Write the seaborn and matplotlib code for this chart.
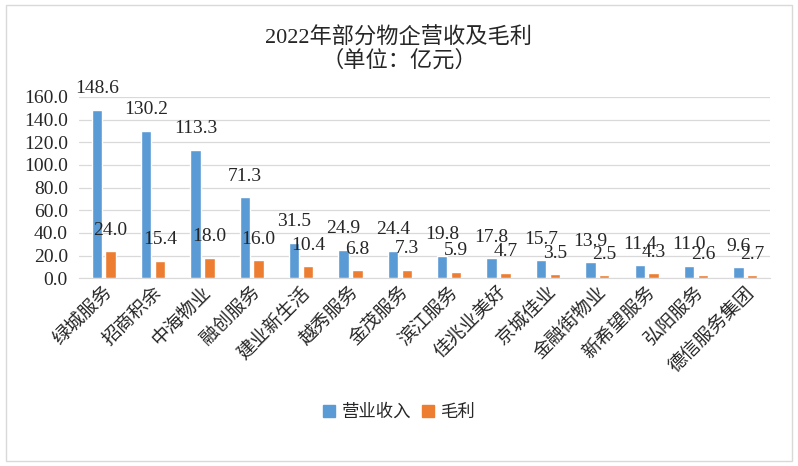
import pandas as pd
import matplotlib.pyplot as plt
import seaborn as sns
from matplotlib.patches import Rectangle

# data
companies = ['绿城服务', '招商积余', '中海物业', '融创服务', '建业新生活', '越秀服务', '金茂服务',
             '滨江服务', '佳兆业美好', '京城佳业', '金融街物业', '新希望服务', '弘阳服务', '德信服务集团']
revenue = [148.6, 130.2, 113.3, 71.3, 31.5, 24.9, 24.4, 19.8, 17.8, 15.7, 13.9, 11.4, 11.0, 9.6]
gross = [24.0, 15.4, 18.0, 16.0, 10.4, 6.8, 7.3, 5.9, 4.7, 3.5, 2.5, 4.3, 2.6, 2.7]
series = ['营业收入', '毛利']
yticks = [0, 20, 40, 60, 80, 100, 120, 140, 160]

df = pd.DataFrame({
    'company': companies * 2,
    'value': revenue + gross,
    'series': [series[0]] * len(companies) + [series[1]] * len(companies),
})

sns.set_style("white")
plt.rcParams['font.family'] = ['Liberation Serif', 'Noto Sans CJK SC']

fig = plt.figure(figsize=(7.98, 4.66), dpi=100)
ax = fig.add_axes([0.099, 0.403, 0.866, 0.389])

sns.barplot(data=df, x='company', y='value', hue='series', palette=['#5B9BD5', '#ED7D31'],
            saturation=1, width=0.56, gap=0.25, ax=ax, legend=False, zorder=3)

ax.set_ylim(0, 160)
ax.set_xlim(-0.5, len(companies) - 0.5)
ax.set_yticks(yticks)
ax.set_yticklabels([f'{t:.1f}' for t in yticks], fontsize=14, color='#262626')
ax.yaxis.grid(True, color='#d9d9d9', linewidth=0.9, zorder=0)
ax.set_xlabel('')
ax.set_ylabel('')
ax.tick_params(axis='y', length=0, pad=8)
ax.tick_params(axis='x', length=0, pad=4)
plt.setp(ax.get_xticklabels(), rotation=45, ha='right', rotation_mode='anchor', fontsize=13.5,
         color='#262626')
for s in ['top', 'right', 'left']:
    ax.spines[s].set_visible(False)
ax.spines['bottom'].set_color('#d9d9d9')

# value labels
for c in ax.containers:
    for bar in c:
        h = bar.get_height()
        ax.annotate(f'{h:.1f}', (bar.get_x() + bar.get_width() / 2, h),
                    xytext=(0, 9), textcoords='offset points',
                    ha='center', va='bottom', fontsize=14, color='#262626')

fig.text(0.5, 0.918, '2022年部分物企营收及毛利', ha='center', va='center', fontsize=16, color='#262626')
fig.text(0.5, 0.87, '（单位：亿元）', ha='center', va='center', fontsize=16, color='#262626')

handles = [Rectangle((0, 0), 1, 1, color='#5B9BD5'), Rectangle((0, 0), 1, 1, color='#ED7D31')]
fig.legend(handles, series, loc='center', bbox_to_anchor=(0.5, 0.115), ncol=2, frameon=False,
           fontsize=12.5, handlelength=0.7, handleheight=0.7, handletextpad=0.4, columnspacing=0.6)

fig.patches.append(Rectangle((0.008, 0.01), 0.984, 0.98, transform=fig.transFigure,
                             fill=False, edgecolor='#d9d9d9', linewidth=1))

plt.savefig('out.png', dpi=100)
